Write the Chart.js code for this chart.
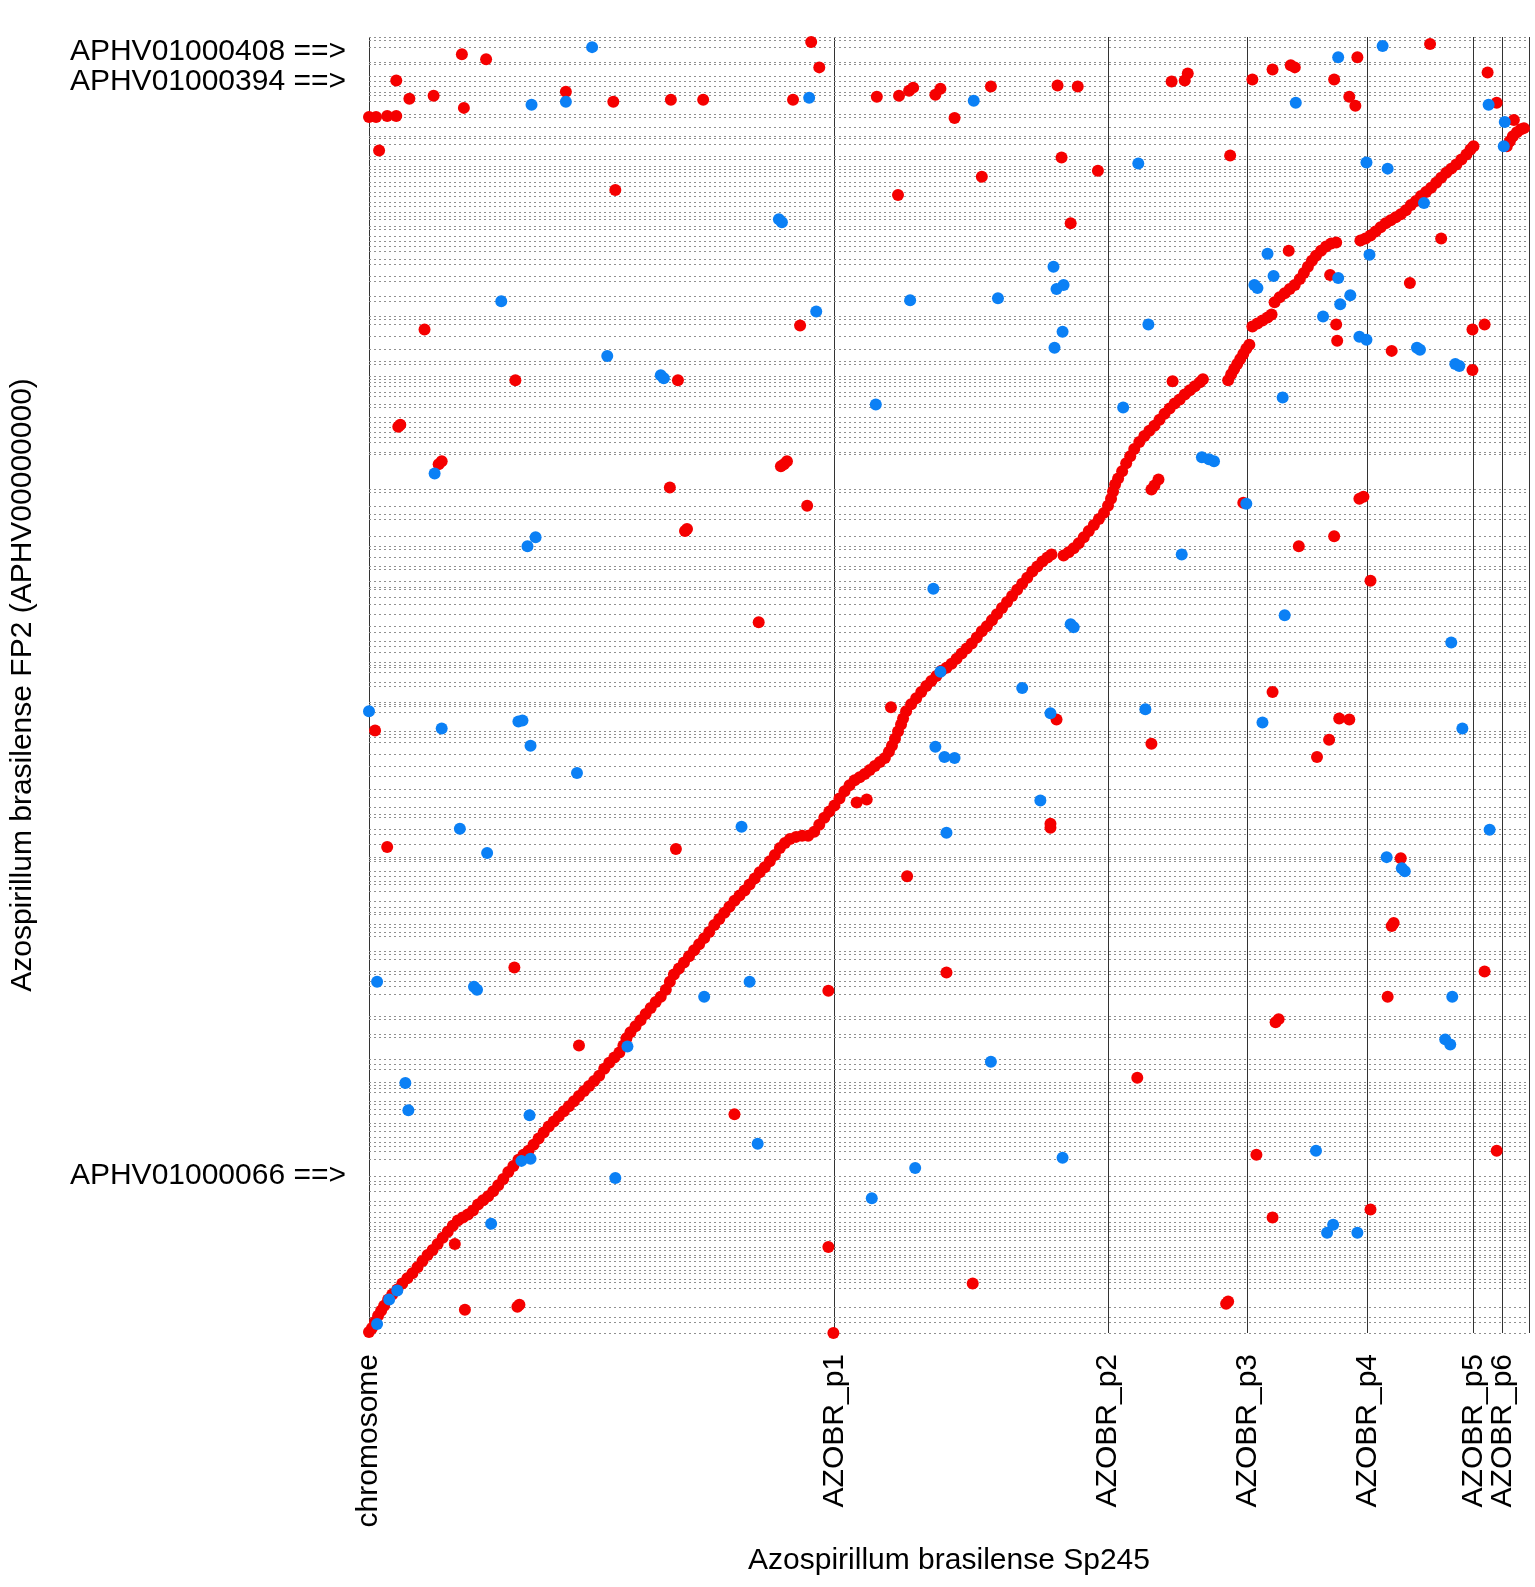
<!DOCTYPE html>
<html>
<head>
<meta charset="utf-8">
<script src="https://cdn.jsdelivr.net/npm/chart.js@4/dist/chart.umd.min.js"></script>
<style>
  html, body { margin: 0; padding: 0; background: #ffffff; }
  canvas { display: block; }
</style>
</head>
<body>
<canvas id="dotplot" width="1535" height="1587"></canvas>
<script>
// Sp245 replicons laid end to end along x (start offsets in kb; last value = end)
const repliconNames = ['chromosome', 'AZOBR_p1', 'AZOBR_p2', 'AZOBR_p3', 'AZOBR_p4', 'AZOBR_p5', 'AZOBR_p6', ''];
const repliconStarts = [0, 2766, 4392, 5220, 5934, 6564, 6738, 6894];

// FP2 draft contigs concatenated along y: boundary offsets (kb)
const contigBreaks = [
  6400, 6382, 6348, 6274, 6264, 6205, 6180, 6155, 6126, 6111, 6081, 6017, 6002, 5953, 5908, 5898,
  5869, 5809, 5795, 5760, 5745, 5730, 5711, 5681, 5661, 5632, 5612, 5582, 5562, 5533, 5513, 5498,
  5464, 5449, 5414, 5390, 5365, 5340, 5301, 5276, 5217, 5192, 5118, 5093, 5019, 5004, 4980, 4920,
  4856, 4797, 4782, 4723, 4708, 4693, 4673, 4644, 4624, 4584, 4570, 4520, 4495, 4471, 4446, 4421,
  4397, 4347, 4337, 4164, 4150, 4080, 4041, 4016, 3932, 3883, 3868, 3829, 3784, 3769, 3710, 3680,
  3670, 3631, 3596, 3547, 3488, 3458, 3414, 3389, 3359, 3310, 3295, 3285, 3260, 3211, 3191, 3112,
  3102, 3092, 3063, 2969, 2954, 2939, 2915, 2855, 2796, 2747, 2682, 2643, 2594, 2559, 2544, 2485,
  2460, 2411, 2347, 2337, 2327, 2277, 2253, 2228, 2213, 2179, 2129, 2100, 2075, 2065, 2016, 2001,
  1976, 1956, 1882, 1867, 1843, 1783, 1769, 1734, 1709, 1670, 1561, 1546, 1472, 1457, 1349, 1324,
  1299, 1235, 1220, 1205, 1186, 1141, 1126, 1102, 1077, 1037, 1018, 993, 963, 939, 919, 894,
  855, 771, 746, 731, 697, 647, 632, 593, 568, 548, 524, 509, 499, 474, 459, 420,
  405, 385, 371, 351, 326, 311, 296, 262, 247, 222, 124, 79, 54, 0
];

// Contigs called out on the left margin
const flaggedContigs = ['APHV01000408 ==>', 'APHV01000394 ==>', 'APHV01000066 ==>'];
const flaggedPositions = [6328, 6180, 775];

// Forward-strand matches [Sp245 kb, FP2 kb]
const forwardMatches = [
  // chromosome collinear run
  [0,5],[18,25],[36,55],[54,85],[72,110],[90,135],[114,165],[138,190],[168,215],[198,245],
  [228,270],[258,295],[288,325],[318,355],[348,385],[378,410],[408,440],[438,470],[468,500],[498,530],
  [528,555],[558,570],[588,585],[618,605],[648,635],[678,655],[708,675],[738,700],[768,730],[798,760],
  [828,795],[858,825],[888,855],[918,880],[948,900],[978,930],[1008,960],[1038,990],[1068,1020],[1098,1045],
  [1128,1070],[1158,1095],[1188,1120],[1218,1145],[1248,1170],[1278,1195],[1308,1220],[1338,1245],[1368,1270],[1398,1305],
  [1428,1335],[1458,1360],[1488,1385],[1512,1420],[1530,1455],[1554,1485],[1584,1515],[1614,1545],[1644,1575],[1674,1605],
  [1704,1635],[1734,1660],[1764,1695],[1788,1735],[1812,1770],[1842,1800],[1872,1830],[1902,1860],[1932,1890],[1962,1920],
  [1992,1950],[2022,1980],[2052,2015],[2082,2045],[2112,2075],[2142,2105],[2172,2135],[2202,2160],[2232,2185],[2262,2215],
  [2292,2245],[2322,2275],[2352,2300],[2382,2330],[2412,2360],[2442,2395],[2472,2420],[2502,2440],[2538,2450],[2574,2455],
  [2610,2455],[2646,2475],[2676,2510],[2706,2545],[2736,2575],[2766,2605],[2796,2640],[2826,2675],[2856,2705],[2886,2730],
  [2916,2745],[2946,2760],[2976,2780],[3006,2800],[3036,2820],[3066,2840],[3090,2870],[3108,2900],[3126,2935],[3144,2970],
  [3162,3005],[3174,3035],[3192,3070],[3222,3105],[3252,3135],[3282,3165],[3312,3195],[3342,3220],[3372,3245],[3402,3270],
  [3432,3285],[3462,3305],[3492,3330],[3522,3355],[3552,3380],[3582,3405],[3612,3435],[3642,3465],[3672,3490],[3702,3520],
  [3732,3550],[3762,3580],[3792,3610],[3822,3640],[3852,3670],[3882,3700],[3912,3730],[3942,3760],[3972,3785],[4002,3810],
  [4032,3830],[4056,3845],
  // AZOBR_p1 collinear runs
  [4128,3840],[4158,3855],[4188,3875],[4218,3900],[4248,3930],[4278,3960],[4308,3990],[4338,4020],[4368,4050],[4392,4085],
  [4410,4120],[4422,4155],[4434,4190],[4452,4220],[4476,4255],[4500,4295],[4524,4330],[4548,4365],[4578,4400],[4608,4430],
  [4638,4455],[4668,4480],[4698,4510],[4728,4540],[4758,4565],[4788,4590],[4818,4610],[4848,4635],[4878,4655],[4908,4675],
  [4938,4695],[4956,4710],
  [5106,4705],[5124,4735],[5142,4760],[5160,4785],[5178,4810],[5196,4835],[5214,4860],[5232,4880],
  [5250,4970],[5280,4985],[5310,5000],[5340,5015],[5364,5030],
  [5382,5090],[5412,5115],[5442,5135],[5472,5155],[5502,5175],[5532,5205],[5556,5235],[5580,5265],[5604,5295],[5628,5320],
  [5658,5345],[5688,5365],[5718,5380],[5748,5385],
  [5892,5395],[5922,5405],[5952,5420],[5982,5440],[6012,5460],[6042,5480],[6072,5495],[6102,5510],[6132,5525],[6162,5545],
  [6192,5570],[6222,5590],[6252,5615],[6282,5635],[6312,5655],[6342,5680],[6372,5705],[6402,5730],[6432,5750],[6462,5770],
  [6492,5795],[6522,5820],[6546,5845],[6564,5860],
  [6762,5860],[6780,5885],[6798,5910],[6822,5930],[6846,5945],[6864,5950],
  // scattered forward hits
  [552,6315],[696,6290],[162,6185],[240,6095],[384,6110],[564,6050],[0,6005],[42,6005],[108,6010],[162,6010],
  [60,5840],[1170,6130],[1452,6080],[1794,6090],[1986,6090],[2628,6375],[2676,6250],[2520,6090],[3018,6105],[3150,6110],
  [3210,6135],[3234,6150],[3366,6115],[3396,6145],[3480,6000],[3696,6155],[4092,6160],[4212,6155],[4770,6180],[4848,6185],
  [4866,6220],[5250,6190],[5370,6240],[5478,6260],[5502,6250],[5736,6190],[5874,6300],[5826,6105],[5862,6060],[6306,6365],
  [6648,6225],[6702,6075],[6804,5990],[4116,5805],[4332,5740],[5118,5815],[1464,5645],[3144,5620],[3642,5710],[4170,5480],
  [6372,5405],[5466,5345],[5712,5225],[6186,5185],[5748,4980],[5754,4900],[6078,4850],[6630,4980],[6558,4955],[2562,4975],
  [330,4955],[6558,4755],[1836,4705],[870,4705],[186,4485],[174,4475],[4776,4700],[432,4305],[414,4290],[2466,4290],
  [2484,4305],[2448,4280],[4692,4215],[4668,4185],[4650,4165],[1788,4175],[2604,4085],[5910,4130],[5886,4120],[5196,4100],
  [1890,3970],[1878,3960],[5736,3935],[5526,3885],[5952,3715],[2316,3510],[5370,3165],[3102,3090],[4086,3030],[5766,3035],
  [5826,3030],[5706,2930],[5634,2845],[4650,2910],[36,2975],[4050,2515],[4050,2495],[108,2400],[1824,2390],[2898,2620],
  [2958,2635],[6132,2345],[3198,2255],[6090,2025],[6078,2010],[864,1805],[3432,1780],[6630,1785],[2730,1690],[6054,1660],
  [5406,1550],[5388,1535],[1248,1420],[4566,1260],[2172,1080],[5274,880],[6702,900],[5952,610],[5370,570],[2730,425],
  [3588,245],[5106,155],[5094,145],[570,115],[882,130],[894,140],[2760,0],[510,440]
];

// Reverse-strand matches [Sp245 kb, FP2 kb]
const reverseMatches = [
  [1326,6350],[1170,6080],[966,6065],[2616,6100],[3594,6085],[5508,6075],[5760,6300],[6024,6355],[6654,6065],[6750,5980],
  [6744,5860],[4572,5775],[5928,5780],[6054,5750],[2436,5500],[2454,5485],[6270,5580],[5340,5330],[5946,5325],[4068,5265],
  [5376,5220],[5280,5160],[5262,5175],[5760,5210],[4128,5175],[4086,5155],[3216,5100],[3738,5110],[786,5095],[5832,5125],
  [5772,5080],[2658,5045],[5670,5020],[5886,4920],[5928,4905],[6228,4865],[6246,4855],[4632,4980],[4122,4945],[4074,4865],
  [1416,4825],[6456,4785],[6480,4775],[1734,4730],[1752,4715],[3012,4585],[4482,4570],[5430,4620],[4950,4325],[4992,4315],
  [5022,4305],[390,4245],[5214,4095],[990,3930],[942,3885],[4830,3845],[3354,3675],[5442,3545],[4170,3500],[4188,3485],
  [6432,3410],[3882,3185],[3396,3265],[4614,3080],[4050,3060],[5310,3015],[6498,2985],[3366,2895],[3420,2845],[3480,2840],
  [0,3070],[432,2985],[888,3020],[912,3025],[960,2900],[1236,2765],[3990,2630],[3432,2470],[2214,2500],[540,2490],
  [702,2370],[6660,2485],[6048,2350],[6156,2280],[6138,2295],[48,1735],[624,1710],[642,1695],[2262,1735],[1992,1660],
  [6438,1660],[1536,1415],[6396,1450],[6426,1425],[3696,1340],[216,1235],[234,1100],[954,1075],[2310,935],[5628,900],
  [4122,865],[3246,815],[1464,765],[906,850],[960,860],[2988,665],[5730,535],[5694,495],[5874,495],[726,540],
  [48,45],[120,165],[168,210]
];

const FONT = "'Liberation Sans', Arial, Helvetica, sans-serif";
const toPoints = arr => arr.map(([x, y]) => ({ x, y }));
const setTicks = values => scale => { scale.ticks = values.map(v => ({ value: v })); };

new Chart(document.getElementById('dotplot'), {
  type: 'scatter',
  data: {
    datasets: [
      {
        label: 'reverse',
        data: toPoints(reverseMatches),
        backgroundColor: '#0b80f5',
        pointRadius: 6,
        pointBorderWidth: 0,
        clip: false
      },
      {
        label: 'forward',
        data: toPoints(forwardMatches),
        backgroundColor: '#f50000',
        pointRadius: 6,
        pointBorderWidth: 0,
        clip: false
      }
    ]
  },
  options: {
    responsive: false,
    animation: false,
    events: [],
    layout: { padding: { top: 37, right: 3, left: 0, bottom: 0 } },
    plugins: { legend: { display: false }, tooltip: { enabled: false } },
    scales: {
      x: {
        type: 'linear',
        position: 'bottom',
        min: repliconStarts[0],
        max: repliconStarts[repliconStarts.length - 1],
        afterBuildTicks: setTicks(repliconStarts),
        afterFit: s => { s.height = 254; s.paddingLeft = 0; s.paddingRight = 0; },
        ticks: {
          autoSkip: false,
          minRotation: 90,
          maxRotation: 90,
          padding: 21,
          color: '#000',
          font: { family: FONT, size: 30 },
          callback: (v, i) => repliconNames[i]
        },
        grid: { color: '#333333', lineWidth: 1, drawTicks: false },
        border: { display: false },
        title: {
          display: true,
          text: 'Azospirillum brasilense Sp245',
          color: '#000',
          font: { family: FONT, size: 30 },
          padding: { top: 0, bottom: 8 }
        }
      },
      y: {
        type: 'linear',
        position: 'left',
        min: 0,
        max: 6400,
        afterBuildTicks: setTicks(flaggedPositions),
        afterFit: s => { s.width = 369; s.paddingTop = 0; s.paddingBottom = 0; },
        ticks: {
          autoSkip: false,
          padding: 23,
          color: '#000',
          font: { family: FONT, size: 30 },
          callback: (v, i) => flaggedContigs[i]
        },
        grid: { display: false, drawTicks: false },
        border: { display: false },
        title: {
          display: true,
          text: 'Azospirillum brasilense FP2 (APHV00000000)',
          color: '#000',
          font: { family: FONT, size: 30 },
          padding: { top: 5, bottom: 0 }
        }
      },
      contigs: {
        type: 'linear',
        position: 'right',
        min: 0,
        max: 6400,
        afterBuildTicks: setTicks(contigBreaks),
        afterFit: s => { s.width = 0; s.paddingTop = 0; s.paddingBottom = 0; },
        ticks: { display: false, autoSkip: false },
        grid: { color: '#909090', lineWidth: 1, drawTicks: false },
        border: { display: false, dash: [2, 3] }
      }
    }
  }
});
</script>
</body>
</html>
